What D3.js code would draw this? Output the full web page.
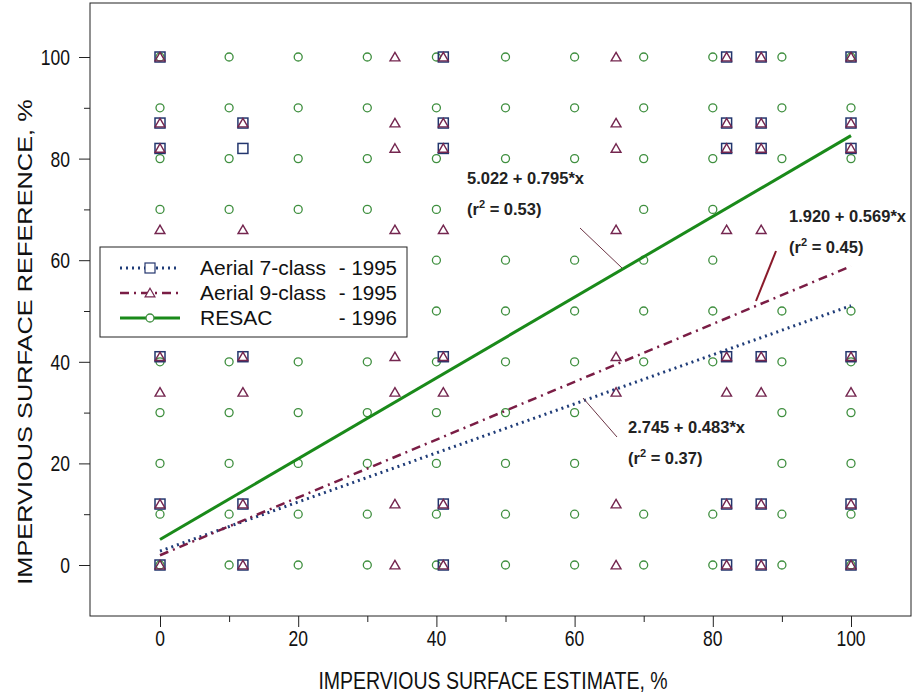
<!DOCTYPE html>
<html><head><meta charset="utf-8">
<script src="https://cdn.jsdelivr.net/npm/d3@7"></script>
<style>body{margin:0;background:#fff;} svg{display:block;} text{font-family:"Liberation Sans",Arial,sans-serif;}</style>
</head><body>
<svg id="c" width="913" height="696"></svg>
<script>
// ---- data ----
const xTicks = [0,10,20,30,40,50,60,70,80,90,100];
const yTicks = [0,10,20,30,40,50,60,70,80,90,100];
const majorLabels = [0,20,40,60,80,100];

// RESAC 1996 points: rows of [y, xs]
const resacRows = [
  [100,[0,10,20,30,40,50,60,70,80,90,100]],
  [90,[0,10,20,30,40,50,60,70,80,90,100]],
  [80,[0,10,20,30,40,50,60,70,80,90,100]],
  [70,[0,10,20,30,40,70,80]],
  [60,[40,50,60,70,80]],
  [50,[40,50,60,70,80,90,100]],
  [40,[0,10,20,30,40,50,60,70,80,90,100]],
  [30,[0,10,20,30,40,50,60,90,100]],
  [20,[0,10,20,30,40,50,60,90,100]],
  [10,[0,10,20,30,40,50,60,70,80,90,100]],
  [0,[0,10,20,30,40,50,60,70,80,90,100]]
];
// Aerial 7-class 1995
const aerial7Rows = [
  [100,[0,41,82,87,100]],
  [87,[0,12,41,82,87,100]],
  [82,[0,12,41,82,87,100]],
  [41,[0,12,41,82,87,100]],
  [12,[0,12,41,82,87,100]],
  [0,[0,12,41,82,87,100]]
];
// Aerial 9-class 1995
const aerial9Rows = [
  [100,[0,34,41,66,82,87,100]],
  [87,[0,12,34,41,66,82,87,100]],
  [82,[0,34,41,66,82,87,100]],
  [66,[0,12,34,41,66,82,87]],
  [41,[0,12,34,41,66,82,87,100]],
  [34,[0,12,34,41,66,82,87,100]],
  [12,[0,12,34,41,66,82,87,100]],
  [0,[0,12,34,41,66,82,87,100]]
];
// regression fits: intercept, slope, r2
const fitNames = ["Aerial 7-class","Aerial 9-class","RESAC"];
const fitYears = ["- 1995","- 1995","- 1996"];
const fitIntercepts = [2.745, 1.920, 5.022];
const fitSlopes = [0.483, 0.569, 0.795];
const fitR2 = ["0.37","0.45","0.53"];

// ---- drawing ----
const svg = d3.select("#c");
const x = d3.scaleLinear().domain([0,100]).range([160,851]);
const y = d3.scaleLinear().domain([0,100]).range([565,57]);
const frame = {l:90,t:3,r:911,b:616};
const cols = {
  sq:"#23366e", tri:"#74264f", circ:"#3f8f3f",
  l7:"#1f3c78", l9:"#7a1d45", lr:"#1a8a1a"
};

svg.append("rect").attr("x",frame.l).attr("y",frame.t)
  .attr("width",frame.r-frame.l).attr("height",frame.b-frame.t)
  .attr("fill","#fff").attr("stroke","#222").attr("stroke-width",1);

// axes
const gx = svg.append("g").attr("transform",`translate(0,${frame.b})`)
  .call(d3.axisBottom(x).tickValues(xTicks).tickSize(0).tickFormat(""));
gx.select(".domain").remove();
gx.selectAll(".tick line").attr("y2",d=>d%20===0?11:6).attr("stroke","#222");
const gy = svg.append("g").attr("transform",`translate(${frame.l},0)`)
  .call(d3.axisLeft(y).tickValues(yTicks).tickSize(0).tickFormat(""));
gy.select(".domain").remove();
gy.selectAll(".tick line").attr("x2",d=>d%20===0?-11:-6).attr("stroke","#222");

svg.append("g").selectAll("text").data(majorLabels).join("text")
  .attr("transform",d=>`translate(${x(d)},646) scale(1,1.25)`)
  .attr("text-anchor","middle").attr("font-size",17.5).attr("fill","#111").text(d=>d);
svg.append("g").selectAll("text").data(majorLabels).join("text")
  .attr("transform",d=>`translate(70,${y(d)+8}) scale(1,1.25)`)
  .attr("text-anchor","end").attr("font-size",17.5).attr("fill","#111").text(d=>d);

svg.append("text").attr("transform","translate(493,689) scale(1,1.25)")
  .attr("text-anchor","middle").attr("font-size",19.5).attr("fill","#111")
  .text("IMPERVIOUS SURFACE ESTIMATE, %");
svg.append("text").attr("transform","translate(32,342) scale(1,1.3) rotate(-90)")
  .attr("text-anchor","middle").attr("font-size",19.5).attr("fill","#111")
  .text("IMPERVIOUS SURFACE REFERENCE, %");

const plot = svg.append("g");
const flat = rows => rows.flatMap(([yy,xs])=>xs.map(xx=>[xx,yy]));

// circles
plot.append("g").selectAll("circle").data(flat(resacRows)).join("circle")
  .attr("cx",d=>x(d[0])).attr("cy",d=>y(d[1])).attr("r",4)
  .attr("fill","none").attr("stroke",cols.circ).attr("stroke-width",1.3);
// squares
plot.append("g").selectAll("rect").data(flat(aerial7Rows)).join("rect")
  .attr("x",d=>x(d[0])-5).attr("y",d=>y(d[1])-5).attr("width",10).attr("height",10)
  .attr("fill","none").attr("stroke",cols.sq).attr("stroke-width",1.5);
// triangles
const tri = d3.symbol().type(d3.symbolTriangle).size(42);
plot.append("g").selectAll("path").data(flat(aerial9Rows)).join("path")
  .attr("d",tri).attr("transform",d=>`translate(${x(d[0])},${y(d[1])+1})`)
  .attr("fill","none").attr("stroke",cols.tri).attr("stroke-width",1.4);

// regression lines
const lineStyles = [
  {c:cols.l7,w:3,dash:"2,4"},
  {c:cols.l9,w:2.5,dash:"9,5,2,5"},
  {c:cols.lr,w:3,dash:null}
];
const line = d3.line().x(d=>x(d[0])).y(d=>y(d[1]));
fitNames.forEach((n,i)=>{
  const pts = [0,100].map(v=>[v,fitIntercepts[i]+fitSlopes[i]*v]);
  plot.append("path").attr("d",line(pts)).attr("fill","none")
    .attr("stroke",lineStyles[i].c).attr("stroke-width",lineStyles[i].w)
    .attr("stroke-dasharray",lineStyles[i].dash);
});

// annotations
const ann = [
  {i:2, tx:467, ty:184, lead:[[580,228],[622,268]], lc:"#6b3444", lw:1},
  {i:1, tx:789, ty:222, lead:[[776,251],[756,301]], lc:"#8a1a2a", lw:2},
  {i:0, tx:628, ty:433, lead:[[583,398],[617,437]], lc:"#6b3444", lw:1}
];
ann.forEach(a=>{
  const i=a.i;
  svg.append("text").attr("x",a.tx).attr("y",a.ty).attr("font-size",16.5)
    .attr("font-weight","bold").attr("fill","#222")
    .text(`${fitIntercepts[i].toFixed(3)} + ${fitSlopes[i].toFixed(3)}*x`);
  const t = svg.append("text").attr("x",a.tx).attr("y",a.ty+31).attr("font-size",16.5)
    .attr("font-weight","bold").attr("fill","#222");
  t.append("tspan").text("(r");
  t.append("tspan").attr("font-size",11).attr("dy",-7).text("2");
  t.append("tspan").attr("dy",7).text(` = ${fitR2[i]})`);
  svg.append("line").attr("x1",a.lead[0][0]).attr("y1",a.lead[0][1])
    .attr("x2",a.lead[1][0]).attr("y2",a.lead[1][1])
    .attr("stroke",a.lc).attr("stroke-width",a.lw);
});

// legend
const lg = svg.append("g");
lg.append("rect").attr("x",100).attr("y",247).attr("width",307).attr("height",90)
  .attr("fill","#fff").attr("stroke","#222").attr("stroke-width",1);
fitNames.forEach((n,i)=>{
  const yy = 268 + i*25;
  lg.append("line").attr("x1",120).attr("x2",180).attr("y1",yy).attr("y2",yy)
    .attr("stroke",lineStyles[i].c).attr("stroke-width",lineStyles[i].w)
    .attr("stroke-dasharray",lineStyles[i].dash);
  if(i===0) lg.append("rect").attr("x",145).attr("y",yy-5).attr("width",10).attr("height",10)
    .attr("fill","#fff").attr("stroke",cols.sq).attr("stroke-width",1.2);
  if(i===1) lg.append("path").attr("d",tri).attr("transform",`translate(150,${yy+1})`)
    .attr("fill","#fff").attr("stroke",cols.tri).attr("stroke-width",1.2);
  if(i===2) lg.append("circle").attr("cx",150).attr("cy",yy).attr("r",4)
    .attr("fill","#fff").attr("stroke",cols.circ).attr("stroke-width",1.3);
  lg.append("text").attr("x",200).attr("y",yy+7).attr("font-size",21).attr("fill","#111").text(n);
  lg.append("text").attr("x",397).attr("y",yy+7).attr("font-size",20.5).attr("text-anchor","end")
    .attr("fill","#111").text(fitYears[i]);
});
</script>
</body></html>
